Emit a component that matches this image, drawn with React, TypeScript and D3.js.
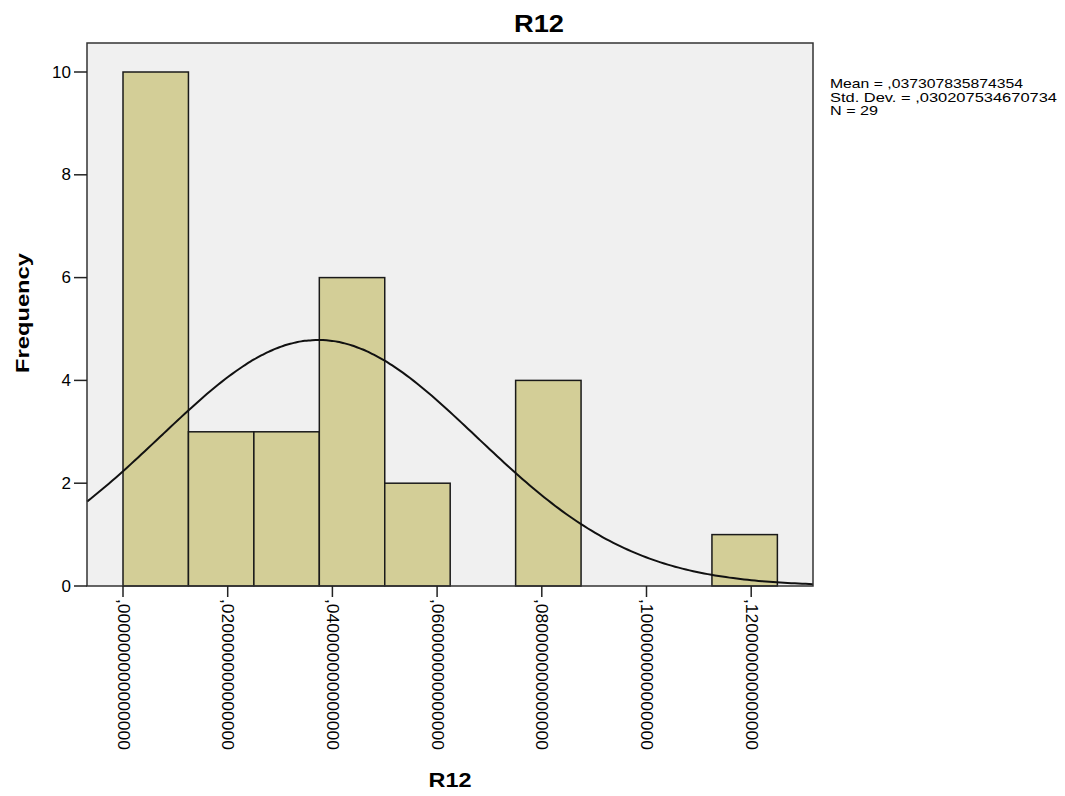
import React from "react";
import * as d3 from "d3";

const binLower = [0, 0.0125, 0.025, 0.0375, 0.05, 0.0625, 0.075, 0.0875, 0.1, 0.1125];
const binUpper = [0.0125, 0.025, 0.0375, 0.05, 0.0625, 0.075, 0.0875, 0.1, 0.1125, 0.125];
const counts = [10, 3, 3, 6, 2, 0, 4, 0, 0, 1];
const xTicks = [0, 0.02, 0.04, 0.06, 0.08, 0.1, 0.12];
const xTickLabels = [
  ",000000000000000",
  ",020000000000000",
  ",040000000000000",
  ",060000000000000",
  ",080000000000000",
  ",100000000000000",
  ",120000000000000",
];
const yTicks = [0, 2, 4, 6, 8, 10];
const stats = { mean: 0.037307835874354, sd: 0.030207534670734, n: 29 };
const legendLines = [
  "Mean = ,037307835874354",
  "Std. Dev. = ,030207534670734",
  "N = 29",
];
const legendWidths = [193, 227, 48];

const FONT = "'Liberation Sans', Arial, sans-serif";

export default function App() {
  const W = 1065, H = 796;
  const left = 87, right = 813, top = 43, bottom = 586;
  const x = d3.scaleLinear().domain([0, 0.02]).range([123, 227.7]);
  const xMin = x.invert(left), xMax = x.invert(right);
  const y = d3.scaleLinear().domain([0, 10]).range([bottom, 72]);

  const binW = binUpper[0] - binLower[0];
  const pdf = (v: number) =>
    (stats.n * binW) / (stats.sd * Math.sqrt(2 * Math.PI)) *
    Math.exp(-0.5 * ((v - stats.mean) / stats.sd) ** 2);
  const curvePts = d3.range(0, 201).map((i) => {
    const v = xMin + ((xMax - xMin) * i) / 200;
    return [x(v), y(pdf(v))] as [number, number];
  });
  const line = d3.line().curve(d3.curveBasis)(curvePts) || "";

  return (
    <svg width={W} height={H} style={{ position: "absolute", left: 0, top: 0 }} fontFamily={FONT}>
      <rect x={0} y={0} width={W} height={H} fill="#ffffff" />
      <text x={539} y={32} textAnchor="middle" fontSize={23} fontWeight="bold" textLength={50} lengthAdjust="spacingAndGlyphs">R12</text>
      <rect x={left} y={top} width={right - left} height={bottom - top} fill="#f0f0f0" stroke="none" />
      {counts.map((c, i) =>
        c > 0 ? (
          <rect key={i} x={x(binLower[i])} y={y(c)} width={x(binUpper[i]) - x(binLower[i])} height={y(0) - y(c)}
            fill="#d3ce97" stroke="#1a1a1a" strokeWidth={1.5} />
        ) : null
      )}
      <path d={line} fill="none" stroke="#111" strokeWidth={2} />
      <rect x={left} y={top} width={right - left} height={bottom - top} fill="none" stroke="#333" strokeWidth={1.5} />
      {yTicks.map((t) => (
        <g key={t}>
          <line x1={74} x2={left} y1={y(t)} y2={y(t)} stroke="#222" strokeWidth={1.5} />
          <text x={71} y={y(t)} textAnchor="end" dominantBaseline="central" fontSize={17}>{t}</text>
        </g>
      ))}
      {xTicks.map((t, i) => (
        <g key={t}>
          <line x1={x(t)} x2={x(t)} y1={bottom} y2={597} stroke="#222" strokeWidth={1.5} />
          <text transform={`translate(${x(t)},599) rotate(90)`} x={0} y={0} dominantBaseline="central" fontSize={16}
            textLength={151} lengthAdjust="spacingAndGlyphs">{xTickLabels[i]}</text>
        </g>
      ))}
      <text x={450} y={787} textAnchor="middle" fontSize={20} fontWeight="bold" textLength={43} lengthAdjust="spacingAndGlyphs">R12</text>
      <text transform={`translate(29,313) rotate(-90)`} textAnchor="middle" fontSize={19} fontWeight="bold" textLength={120} lengthAdjust="spacingAndGlyphs">Frequency</text>
      {legendLines.map((s, i) => (
        <text key={i} x={830} y={88 + i * 13.5} fontSize={13.5} textLength={legendWidths[i]} lengthAdjust="spacingAndGlyphs">{s}</text>
      ))}
    </svg>
  );
}
